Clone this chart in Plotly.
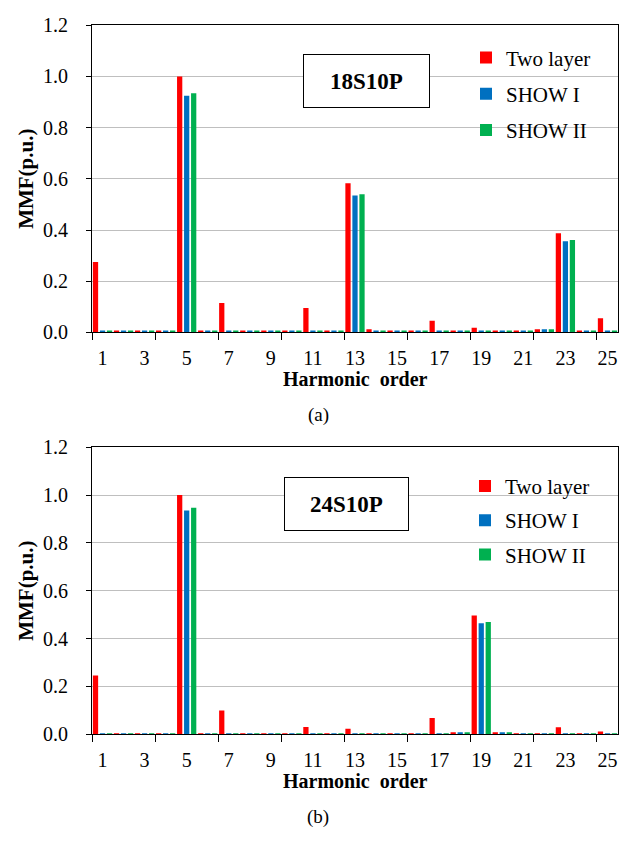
import plotly.graph_objects as go

# ---------------- data ----------------
orders = list(range(1, 26))
label_orders = list(range(1, 26, 2))
series_names = ["Two layer", "SHOW I", "SHOW II"]
series_colors = ["#FF0000", "#0070C0", "#00B050"]

# (a) 18S10P
two_layer_a = [0.275, 0.007, 0.007, 0.007, 1.000, 0.007, 0.115, 0.007, 0.007, 0.007,
               0.095, 0.007, 0.583, 0.012, 0.007, 0.007, 0.045, 0.007, 0.018, 0.007,
               0.007, 0.012, 0.387, 0.007, 0.055]
show1_a = [0.007, 0.007, 0.007, 0.007, 0.925, 0.007, 0.007, 0.007, 0.007, 0.007,
           0.007, 0.007, 0.535, 0.007, 0.007, 0.007, 0.007, 0.007, 0.007, 0.007,
           0.007, 0.012, 0.356, 0.007, 0.007]
show2_a = [0.007, 0.007, 0.007, 0.007, 0.935, 0.007, 0.007, 0.007, 0.007, 0.007,
           0.007, 0.007, 0.540, 0.007, 0.007, 0.007, 0.007, 0.007, 0.007, 0.007,
           0.007, 0.012, 0.361, 0.007, 0.007]

# (b) 24S10P
two_layer_b = [0.246, 0.002, 0.002, 0.002, 1.000, 0.002, 0.099, 0.002, 0.002, 0.002,
               0.030, 0.002, 0.023, 0.002, 0.002, 0.002, 0.068, 0.005, 0.497, 0.005,
               0.002, 0.002, 0.029, 0.002, 0.012]
show1_b = [0.002, 0.002, 0.002, 0.002, 0.936, 0.002, 0.002, 0.002, 0.002, 0.002,
           0.002, 0.002, 0.002, 0.002, 0.002, 0.002, 0.002, 0.005, 0.464, 0.005,
           0.002, 0.002, 0.002, 0.002, 0.002]
show2_b = [0.002, 0.002, 0.002, 0.002, 0.947, 0.002, 0.002, 0.002, 0.002, 0.002,
           0.002, 0.002, 0.002, 0.002, 0.002, 0.002, 0.002, 0.005, 0.470, 0.005,
           0.002, 0.002, 0.002, 0.002, 0.002]

titles = ["18S10P", "24S10P"]
captions = ["(a)", "(b)"]
y_title = "MMF(p.u.)"
x_title = "Harmonic&nbsp;&nbsp;order"
y_ticks = [0.0, 0.2, 0.4, 0.6, 0.8, 1.0, 1.2]

# ---------------- figure ----------------
W, H = 636, 842
FONT = "Liberation Serif"

def px_x(x):
    return x / W

def px_y(y):
    return 1 - y / H

fig = go.Figure()

panels = [
    ([two_layer_a, show1_a, show2_a], "x", "y", "legend"),
    ([two_layer_b, show1_b, show2_b], "x2", "y2", "legend2"),
]
for data, xa, ya, lg in panels:
    for name, color, vals in zip(series_names, series_colors, data):
        fig.add_trace(go.Bar(
            x=orders, y=vals, name=name, marker=dict(color=color, line=dict(width=0)),
            xaxis=xa, yaxis=ya, legend=lg, legendgroup=lg + name,
        ))

plot_left, plot_right = 92, 618
panel_pix = [(14.7, 330), (448, 742.7)]

xaxis_common = dict(
    range=[0.5, 25.5], tickvals=label_orders, ticktext=[str(v) for v in label_orders],
    ticks="", showgrid=False, zeroline=False, showline=True, linecolor="black",
    linewidth=1, mirror=True,
    tickfont=dict(family=FONT, size=20, color="black"),
    minor=dict(tickvals=[0.5 + 3 * k for k in range(9)], ticks="outside",
               ticklen=7, tickcolor="black", tickwidth=1, showgrid=False),
    ticklabelstandoff=8,
)
yaxis_common = dict(
    range=[0, 1.2], tickvals=y_ticks, tickformat=".1f",
    showgrid=True, gridcolor="#BFBFBF", gridwidth=1, zeroline=False,
    showline=True, linecolor="black", linewidth=1, mirror=True,
    ticks="outside", ticklen=5, tickcolor="black", tickwidth=1,
    tickfont=dict(family=FONT, size=20, color="black"),
    ticklabelstandoff=14,
)

dom_x = [px_x(plot_left), px_x(plot_right)]
fig.update_layout(
    xaxis=dict(domain=dom_x, anchor="y", **xaxis_common),
    yaxis=dict(domain=[px_y(panel_pix[0][1]), px_y(panel_pix[0][0])], anchor="x", **yaxis_common),
    xaxis2=dict(domain=dom_x, anchor="y2", **xaxis_common),
    yaxis2=dict(domain=[px_y(panel_pix[1][1]), px_y(panel_pix[1][0])], anchor="x2", **yaxis_common),
)

legend_common = dict(
    xanchor="left", yanchor="top", bgcolor="rgba(0,0,0,0)", borderwidth=0,
    font=dict(family=FONT, size=21, color="black"),
    traceorder="grouped",
)
fig.update_layout(
    legend=dict(x=px_x(466), y=px_y(27), tracegroupgap=6, **legend_common),
    legend2=dict(x=px_x(465), y=px_y(467), tracegroupgap=4, **legend_common),
)

annotations = []
boxes = [((303, 430), (45, 99)), ((284, 409), (479, 533))]
for t, ((x0, x1), (y0, y1)) in zip(titles, boxes):
    annotations.append(dict(
        text="<b>%s</b>" % t, xref="paper", yref="paper",
        x=px_x((x0 + x1) / 2), y=px_y((y0 + y1) / 2), xanchor="center", yanchor="middle",
        showarrow=False, width=x1 - x0 - 2, height=y1 - y0 - 2, borderpad=0,
        bordercolor="black", borderwidth=1, bgcolor="white",
        font=dict(family=FONT, size=23, color="black"),
    ))

for (top, bot), cap in zip(panel_pix, captions):
    annotations.append(dict(
        text="<b>%s</b>" % y_title, xref="paper", yref="paper", textangle=-90,
        x=px_x(26), y=px_y((top + bot) / 2), xanchor="center", yanchor="middle",
        showarrow=False, font=dict(family=FONT, size=21, color="black"),
    ))
    annotations.append(dict(
        text="<b>%s</b>" % x_title, xref="paper", yref="paper",
        x=px_x((plot_left + plot_right) / 2), y=px_y(bot + 48), xanchor="center", yanchor="middle",
        showarrow=False, font=dict(family=FONT, size=20, color="black"),
    ))
    annotations.append(dict(
        text=cap, xref="paper", yref="paper",
        x=px_x(318), y=px_y(bot + 85), xanchor="center", yanchor="middle",
        showarrow=False, font=dict(family=FONT, size=19, color="black"),
    ))

fig.update_layout(
    width=W, height=H, margin=dict(l=0, r=0, t=0, b=0),
    paper_bgcolor="white", plot_bgcolor="white",
    barmode="group", bargap=0.0, bargroupgap=0.25,
    showlegend=True, annotations=annotations,
    font=dict(family=FONT, color="black"),
)

fig.write_html("out.html")
